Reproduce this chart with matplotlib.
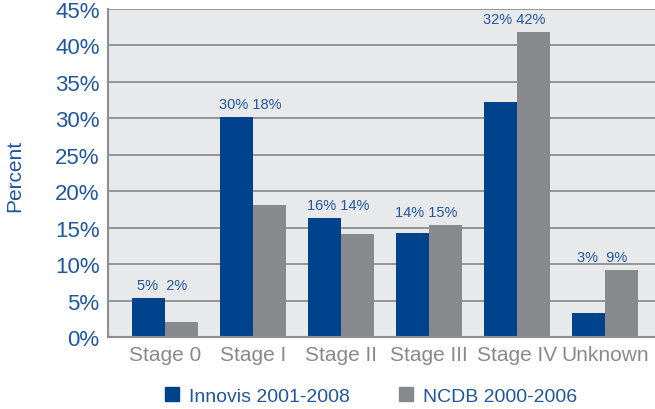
import matplotlib
matplotlib.use("Agg")
import matplotlib.pyplot as plt
import numpy as np
from matplotlib.patches import Patch

categories = ["Stage 0", "Stage I", "Stage II", "Stage III", "Stage IV", "Unknown"]
innovis = [5.3, 30.2, 16.3, 14.3, 32.2, 3.3]
ncdb = [2.1, 18.1, 14.1, 15.3, 41.9, 9.2]
innovis_labels = ["5%", "30%", "16%", "14%", "32%", "3%"]
ncdb_labels = ["2%", "18%", "14%", "15%", "42%", "9%"]
series_names = ["Innovis 2001-2008", "NCDB 2000-2006"]
yticks = [0, 5, 10, 15, 20, 25, 30, 35, 40, 45]

BLUE = "#00428c"
GRAY = "#88898c"
TXT_BLUE = "#1f56a0"
GRID = "#8e8f92"
BG = "#e8e9eb"

plt.rcParams['font.family'] = ['Liberation Sans', 'DejaVu Sans']

fig = plt.figure(figsize=(6.55, 4.10), dpi=100)
ax = fig.add_axes([108/655, 72/410, 1 - 108/655, 328/410])
ax.set_facecolor(BG)

x = np.arange(len(categories))
w = 0.375
ax.bar(x - w/2, innovis, w, color=BLUE, zorder=3)
ax.bar(x + w/2, ncdb, w, color=GRAY, zorder=3)

for i in range(len(categories)):
    top = max(innovis[i], ncdb[i])
    sep = "  " if len(innovis_labels[i]) < 3 else " "
    ax.annotate(innovis_labels[i] + sep + ncdb_labels[i], (x[i], top), xytext=(-2, 6.5),
                textcoords="offset points", ha="center", va="baseline",
                fontsize=10.5, color=TXT_BLUE)

ax.set_xlim(-0.648, 5.568)
ax.set_ylim(0, 45)
ax.set_yticks(yticks)
ax.set_yticklabels([f"{t}%" for t in yticks], fontsize=16, color=TXT_BLUE)
ax.set_xticks(x)
ax.set_xticklabels(categories, fontsize=15, color=GRAY)
ax.tick_params(axis='x', length=0, pad=6)
ax.tick_params(axis='y', length=0, pad=6)
ax.yaxis.grid(True, color=GRID, linewidth=1.3, zorder=1)
ax.set_axisbelow(True)
for s in ["top", "right"]:
    ax.spines[s].set_visible(False)
for s in ["left", "bottom"]:
    ax.spines[s].set_color(GRID)
    ax.spines[s].set_linewidth(1.5)
    ax.spines[s].set_zorder(4)

fig.text(15/655, 1 - 176/410, "Percent", rotation=90, ha="center", va="center",
         fontsize=15, color=TXT_BLUE)

handles = [Patch(color=BLUE), Patch(color=GRAY)]
fig.legend(handles, series_names, loc="center", bbox_to_anchor=(371/655, 13/410),
           ncol=2, frameon=False, fontsize=14, labelcolor=TXT_BLUE,
           handlelength=0.75, handleheight=0.75, handletextpad=0.5, columnspacing=2.5)

fig.savefig("out.png", dpi=100)
